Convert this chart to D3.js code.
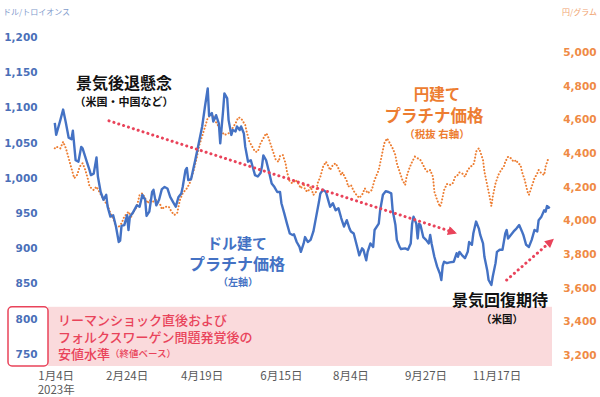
<!DOCTYPE html>
<html>
<head>
<meta charset="utf-8">
<script src="https://cdn.jsdelivr.net/npm/d3@7"></script>
<style>
body { margin: 0; background: #fff; }
svg { display: block; font-family: "Noto Sans CJK JP", sans-serif; }
</style>
</head>
<body>
<svg id="chart" width="600" height="397"></svg>
<script>
// ドル建てプラチナ価格（左軸, ドル/トロイオンス）
var usdDates = [
  "1/3","1/4","1/7","1/9","1/11","1/13","1/15","1/16","1/18","1/20","1/22","1/23","1/26","1/28","1/29","1/31",
  "2/2","2/3","2/5","2/7","2/9","2/10","2/12","2/14","2/16","2/18","2/19","2/20","2/22","2/24","2/25","2/26","2/28",
  "3/3","3/5","3/7","3/9","3/10","3/12","3/14","3/15","3/17","3/19","3/21","3/23","3/25","3/27","3/29","3/31",
  "4/2","4/4","4/5","4/7","4/8","4/9","4/11","4/14","4/16","4/19","4/21","4/23","4/24","4/26","4/27","4/29",
  "5/1","5/2","5/4","5/5","5/7","5/8","5/10","5/11","5/13","5/14","5/16","5/17","5/19","5/20","5/22","5/24","5/25","5/27","5/29","5/31",
  "6/1","6/2","6/4","6/6","6/8","6/10","6/12","6/14","6/15","6/17","6/19","6/21","6/23","6/24","6/26","6/28","6/29",
  "7/1","7/2","7/4","7/6","7/8","7/10","7/12","7/13","7/15","7/17","7/19","7/20","7/22","7/24","7/26","7/28","7/29","7/30",
  "8/1","8/3","8/4","8/6","8/9","8/10","8/12","8/13","8/15","8/16","8/18","8/20","8/21","8/24","8/25","8/27","8/29","8/31",
  "9/2","9/3","9/5","9/6","9/8","9/9","9/12","9/14","9/16","9/17","9/18","9/20","9/21","9/22","9/23","9/25","9/27","9/29","9/30",
  "10/1","10/3","10/5","10/7","10/8","10/9","10/10","10/12","10/14","10/17","10/19","10/20","10/21","10/23","10/25","10/27","10/28","10/30","10/31",
  "11/2","11/4","11/5","11/7","11/8","11/10","11/11","11/13","11/14","11/16","11/17","11/19","11/21","11/23","11/24","11/25","11/27","11/29",
  "12/1","12/3","12/5","12/6","12/8","12/10","12/12","12/14","12/16","12/17","12/19","12/21","12/22","12/23","12/25"
];
var usdPrice = [
  1078,1061,1082,1097,1078,1057,1055,1067,1025,1023,1044,1042,1023,1011,1004,1006,
  1029,1002,980,969,976,959,945,947,931,909,911,932,933,947,926,945,950,
  961,959,976,969,946,952,980,983,961,969,984,987,985,973,966,959,
  973,978,987,1011,1014,997,998,1025,1044,1073,1101,1127,1088,1092,1080,1089,
  1077,1049,1094,1120,1113,1082,1061,1068,1066,1073,1068,1073,1063,1044,1023,1025,1018,1004,1002,1007,
  1016,1032,1025,1009,992,987,980,980,964,950,935,921,919,920,909,902,895,
  907,916,909,912,924,945,966,978,983,980,966,959,964,954,957,943,937,931,
  940,928,924,921,898,890,900,898,883,895,907,902,926,935,954,976,981,980,
  978,954,933,912,902,899,900,898,907,935,945,935,914,935,933,916,912,907,919,
  907,888,874,864,855,875,881,879,880,881,893,888,895,890,886,895,909,905,921,
  938,928,919,907,888,869,855,848,860,879,895,898,898,921,926,914,919,924,
  928,933,924,919,905,902,912,926,924,940,945,954,952,960,957
];

// 円建てプラチナ価格（税抜 右軸, 円/グラム）
var jpyDates = [
  "1/3","1/4","1/7","1/9","1/11","1/13","1/15","1/17","1/19","1/21","1/23","1/25","1/27","1/28","1/31",
  "2/2","2/4","2/6","2/8","2/10","2/12","2/14","2/16","2/18","2/20","2/22","2/25","2/27","2/28",
  "3/3","3/5","3/7","3/9","3/11","3/12","3/15","3/17","3/20","3/21","3/23","3/26","3/28","3/30",
  "4/1","4/3","4/5","4/8","4/10","4/13","4/15","4/17","4/20","4/23","4/26","4/28",
  "5/1","5/3","5/5","5/8","5/10","5/13","5/15","5/17","5/20","5/21","5/23","5/25","5/27","5/29","5/31",
  "6/2","6/4","6/5","6/7","6/9","6/11","6/13","6/14","6/16","6/18","6/19","6/21","6/23","6/25","6/27","6/29",
  "7/1","7/2","7/4","7/6","7/8","7/10","7/11","7/13","7/15","7/17","7/19","7/20","7/22","7/24","7/26","7/28","7/29",
  "8/1","8/2","8/4","8/6","8/8","8/10","8/12","8/14","8/16","8/19","8/21","8/24","8/26","8/28","8/30",
  "9/1","9/3","9/5","9/6","9/8","9/10","9/12","9/13","9/15","9/17","9/19","9/21","9/23","9/25","9/26","9/28","9/30",
  "10/2","10/3","10/5","10/7","10/8","10/10","10/12","10/14","10/16","10/18","10/19","10/21","10/23","10/25","10/27","10/29","10/31",
  "11/1","11/2","11/4","11/5","11/7","11/8","11/10","11/12","11/13","11/14","11/16","11/18","11/20","11/22","11/23","11/25","11/27","11/29",
  "12/1","12/2","12/4","12/5","12/7","12/9","12/10","12/12","12/14","12/16","12/17","12/19","12/21","12/22","12/24"
];
var jpyPrice = [
  4428,4438,4428,4467,4428,4369,4309,4250,4269,4319,4339,4299,4240,4200,4180,
  4200,4170,4140,4111,4091,4042,4012,3962,3962,3982,4022,4051,4022,4042,
  4081,4151,4161,4131,4101,4121,4111,4121,4091,4066,4081,4081,4051,4032,
  4042,4121,4161,4190,4220,4299,4369,4448,4527,4608,4632,4596,
  4556,4527,4507,4517,4537,4576,4612,4606,4566,4527,4467,4438,4408,4408,4458,
  4487,4517,4507,4458,4408,4358,4348,4382,4388,4339,4289,4230,4220,4240,4220,4190,
  4220,4180,4170,4200,4151,4170,4220,4259,4319,4348,4319,4299,4329,4339,4309,4269,4284,
  4234,4200,4210,4174,4151,4133,4151,4190,4161,4180,4240,4299,4378,4458,4487,
  4458,4428,4388,4339,4289,4240,4210,4259,4309,4348,4378,4369,4358,4329,4309,4289,4299,
  4259,4170,4121,4081,4101,4180,4216,4210,4216,4259,4260,4284,4279,4259,4299,4319,4329,
  4358,4408,4428,4408,4358,4289,4210,4131,4085,4140,4220,4269,4299,4319,4348,4378,4369,4348,
  4358,4339,4329,4289,4240,4170,4151,4200,4250,4279,4299,4279,4269,4319,4369
];

var xTickDates = ["1/4","2/24","4/19","6/15","8/4","9/27","11/17"];
var leftTicks = [1200,1150,1100,1050,1000,950,900,850,800,750];
var rightTicks = [5000,4800,4600,4400,4200,4000,3800,3600,3400,3200];

// 矢印（ドル建て価格の目安）
var arrowDown = [["2/11",1081],["10/18",922]];
var arrowUp = [["11/24",855],["12/27",912]];

var parse = d3.timeParse("%Y/%m/%d");
function dt(s) { return parse("2023/" + s); }

var svg = d3.select("#chart");

var x = d3.scaleTime()
  .domain([new Date(2023,0,1), new Date(2024,0,1)])
  .range([52, 559.5]);
var yL = d3.scaleLinear().domain([750,1200]).range([354,37]);
var yR = d3.scaleLinear().domain([3200,5000]).range([355,52]);

var red = "#e9435a", blue = "#4472c4", orange = "#ed7d31";

// 安値水準の帯
svg.append("rect")
  .attr("x", 48).attr("y", yL(817))
  .attr("width", 552 - 48).attr("height", yL(733) - yL(817))
  .attr("fill", "#fadadc");
svg.append("rect")
  .attr("x", 8).attr("y", yL(817))
  .attr("width", 40).attr("height", yL(733) - yL(817))
  .attr("rx", 4)
  .attr("fill", "#fff").attr("stroke", red).attr("stroke-width", 1.5);

// 軸
var gl = svg.append("g").attr("transform", "translate(37.5,0)")
  .call(d3.axisLeft(yL).tickValues(leftTicks).tickSize(0).tickPadding(0).tickFormat(d3.format(",")));
var gr = svg.append("g").attr("transform", "translate(596.5,0)")
  .call(d3.axisLeft(yR).tickValues(rightTicks).tickSize(0).tickPadding(0).tickFormat(d3.format(",")));
gl.select(".domain").remove();
gr.select(".domain").remove();
gl.selectAll("text").attr("fill", "#4a6fb8");
gr.selectAll("text").attr("fill", "#ef8a45");
svg.selectAll("g text")
  .attr("font-family", "DejaVu Sans, sans-serif")
  .attr("font-size", 10.5).attr("font-weight", "bold");

svg.selectAll(".xlab")
  .data(xTickDates)
  .enter().append("text")
  .attr("class", "xlab")
  .attr("x", function(d) { return x(dt(d)); })
  .attr("y", 375)
  .attr("text-anchor", "middle")
  .attr("dominant-baseline", "central")
  .attr("font-size", 11.5).attr("fill", "#595959")
  .text(function(d) { return d3.timeFormat("%-m月%-d日")(dt(d)); });
svg.append("text")
  .attr("x", x(dt("1/4"))).attr("y", 389)
  .attr("text-anchor", "middle").attr("dominant-baseline", "central")
  .attr("font-size", 11.5).attr("fill", "#595959")
  .text("2023年");

// 単位
svg.append("text").attr("x", 3).attr("y", 11).attr("dominant-baseline", "central")
  .attr("font-size", 8).attr("fill", "#7f9bcc").text("ドル/トロイオンス");
svg.append("text").attr("x", 597).attr("y", 11).attr("dominant-baseline", "central")
  .attr("text-anchor", "end")
  .attr("font-size", 8).attr("fill", "#f0a470").text("円/グラム");

// 線
var usd = usdDates.map(function(d, i) { return [dt(d), usdPrice[i]]; });
var jpy = jpyDates.map(function(d, i) { return [dt(d), jpyPrice[i]]; });

svg.append("path")
  .datum(jpy)
  .attr("fill", "none")
  .attr("stroke", orange)
  .attr("stroke-width", 2)
  .attr("stroke-dasharray", "0.1 3.2")
  .attr("stroke-linecap", "round")
  .attr("d", d3.line().x(function(d) { return x(d[0]); }).y(function(d) { return yR(d[1]); }));

svg.append("path")
  .datum(usd)
  .attr("fill", "none")
  .attr("stroke", blue)
  .attr("stroke-width", 2.4)
  .attr("stroke-linejoin", "round")
  .attr("d", d3.line().x(function(d) { return x(d[0]); }).y(function(d) { return yL(d[1]); }));

// 矢印
svg.append("defs").append("marker")
  .attr("id", "head")
  .attr("viewBox", "0 0 10 10")
  .attr("refX", 8).attr("refY", 5)
  .attr("markerWidth", 10).attr("markerHeight", 9)
  .attr("markerUnits", "userSpaceOnUse")
  .attr("orient", "auto")
  .append("path").attr("d", "M0,0L10,5L0,10Z").attr("fill", red);

[arrowDown, arrowUp].forEach(function(a) {
  svg.append("path")
    .datum(a)
    .attr("fill", "none")
    .attr("stroke", red)
    .attr("stroke-width", 3)
    .attr("stroke-dasharray", "0.1 5")
    .attr("stroke-linecap", "round")
    .attr("marker-end", "url(#head)")
    .attr("d", d3.line().x(function(d) { return x(dt(d[0])); }).y(function(d) { return yL(d[1]); }));
});

// 注記
var notes = [
  {t: "景気後退懸念", x: 124, y: 82, s: 16, c: "#111"},
  {t: "（米国・中国など）", x: 124, y: 101, s: 11, c: "#111"},
  {t: "円建て", x: 437, y: 93, s: 15.5, c: orange},
  {t: "プラチナ価格", x: 434, y: 115, s: 16.5, c: orange},
  {t: "（税抜 右軸）", x: 437, y: 133, s: 10.5, c: orange},
  {t: "ドル建て", x: 237, y: 242, s: 15, c: blue},
  {t: "プラチナ価格", x: 237, y: 263, s: 16, c: blue},
  {t: "（左軸）", x: 238, y: 281, s: 10, c: blue},
  {t: "景気回復期待", x: 500, y: 299, s: 16, c: "#111"},
  {t: "（米国）", x: 502, y: 318, s: 10.5, c: "#111"}
];
svg.selectAll(".note")
  .data(notes)
  .enter().append("text")
  .attr("class", "note")
  .attr("x", function(d) { return d.x; })
  .attr("y", function(d) { return d.y; })
  .attr("text-anchor", "middle")
  .attr("dominant-baseline", "central")
  .attr("font-size", function(d) { return d.s; })
  .attr("font-weight", 700)
  .attr("fill", function(d) { return d.c; })
  .text(function(d) { return d.t; });

var band = svg.append("g").attr("fill", red).attr("font-weight", 500);
band.append("text").attr("x", 58).attr("y", 319).attr("dominant-baseline", "central")
  .attr("font-size", 13).text("リーマンショック直後および");
band.append("text").attr("x", 58).attr("y", 336).attr("dominant-baseline", "central")
  .attr("font-size", 13).text("フォルクスワーゲン問題発覚後の");
var t3 = band.append("text").attr("x", 58).attr("y", 353).attr("dominant-baseline", "central")
  .attr("font-size", 13);
t3.append("tspan").text("安値水準");
t3.append("tspan").attr("font-size", 9.5).text("（終値ベース）");
</script>
</body>
</html>
